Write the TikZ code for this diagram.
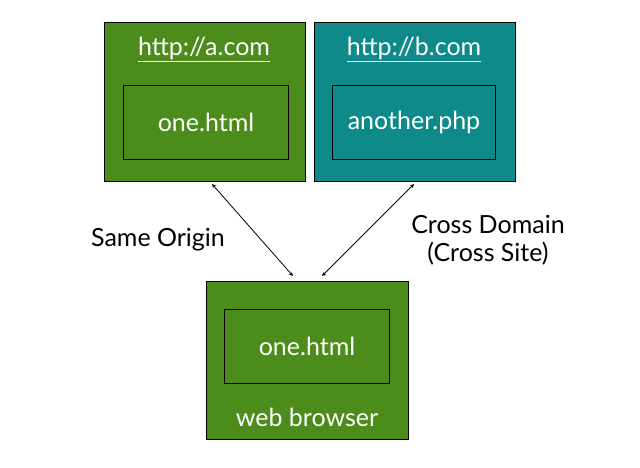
\documentclass[tikz,border=0pt]{standalone}
\usepackage{fontspec}
\setmainfont{Lato}
\usetikzlibrary{positioning}
\definecolor{sitegreen}{RGB}{76,140,26}
\definecolor{siteteal}{RGB}{14,138,138}

\begin{document}
\begin{tikzpicture}[x=1pt, y=-1pt, font=\fontsize{25}{28}\selectfont]
\tikzstyle{site} = [rectangle, draw, line width=1pt, minimum width=201pt, minimum height=159pt, anchor=north west]
\tikzstyle{page} = [rectangle, draw, line width=1pt, text=white, minimum width=165pt, minimum height=74pt, anchor=north west]
\tikzstyle{caption} = [text=white, anchor=base]
\tikzstyle{line} = [draw, <->, >=stealth, line width=0.8pt]

\useasboundingbox (0,0) rectangle (640,468);

\node [site, fill=sitegreen] (siteA) at (104,22) {};
\node [site, fill=siteteal] (siteB) at (314,22) {};
\node [site, fill=sitegreen, minimum width=202pt, minimum height=158pt] (browser) at (206,281) {};

\node [page] (pageA) at (123,85) {one.html};
\node [page, minimum width=163pt] (pageB) at (332,85) {another.php};
\node [page] (pageC) at (224,309) {one.html};

\node [caption] (urlA) at (204,56) {\underline{http://a.com}};
\node [caption] (urlB) at (414,56) {\underline{http://b.com}};
\node [caption] (label) at (307,426) {web browser};

\coordinate (endA) at (212,184);
\coordinate (endB) at (414,184);
\coordinate (tipA) at (293,276);
\coordinate (tipB) at (322,276);
\path [line] (endA) -- (tipA);
\path [line] (endB) -- (tipB);

\node (same) at (158,240) {Same Origin};
\node [align=center] (cross) at (488,240) {Cross Domain\\(Cross Site)};
\end{tikzpicture}
\end{document}
